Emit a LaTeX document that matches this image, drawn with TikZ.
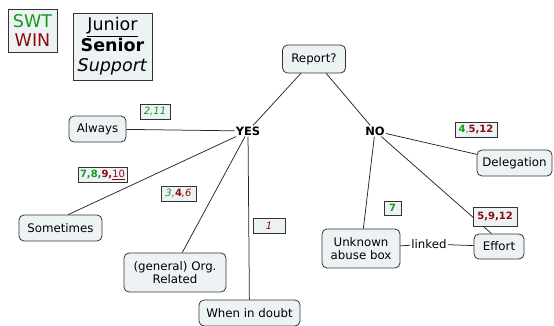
\documentclass[tikz,border=0pt]{standalone}
\usepackage{fontspec}
\setmainfont{DejaVu Sans}
\definecolor{swt}{HTML}{1C961C}
\definecolor{win}{HTML}{8C0A0A}
\definecolor{boxfill}{HTML}{EDF3F5}
\definecolor{edge}{HTML}{333333}
\begin{document}
\begin{tikzpicture}[x=1pt,y=-1pt,
  topic/.style={draw=edge,fill=boxfill,rounded corners=5pt,line width=0.8pt,
    font=\fontsize{11.8}{13.5}\selectfont,align=center,inner sep=2pt,minimum height=26pt},
  tag/.style={draw=edge,fill=boxfill,line width=0.6pt,font=\fontsize{10}{12}\selectfont,
    inner sep=1.5pt,minimum height=15pt},
  hub/.style={font=\bfseries\fontsize{11.5}{13}\selectfont,inner sep=1pt},
  conn/.style={draw=black!85,line width=0.75pt},
  legend/.style={draw=edge,fill=boxfill,line width=0.8pt,align=center,inner sep=1pt}]
\useasboundingbox (0,0) rectangle (554,326);

% legends
\node[legend,minimum width=49pt,minimum height=43pt,font=\fontsize{17.5}{19}\selectfont] (key1) at (32.5,30.5)
  {\textcolor{swt}{SWT}\\\textcolor{win}{WIN}};
\node[legend,minimum width=79pt,minimum height=67pt,font=\fontsize{17.5}{20.5}\selectfont] (key2) at (112.5,46.5)
  {\underline{Junior}\\\textbf{Senior}\\\textit{Support}};

% topics
\node[topic,minimum width=63pt,minimum height=28pt] (rep) at (314,59) {Report?};
\node[hub] (yes) at (248,131) {YES};
\node[hub] (no) at (375,131) {NO};
\node[topic,minimum width=57pt] (alw) at (97.5,129) {Always};
\node[topic,minimum width=83pt] (som) at (60.5,228) {Sometimes};
\node[topic,minimum width=102pt,minimum height=39pt] (org) at (175,272.5) {(general) Org.\\Related};
\node[topic,minimum width=101pt] (wid) at (249.5,313) {When in doubt};
\node[topic,minimum width=78pt,minimum height=39pt] (unk) at (361,248.5) {Unknown\\abuse box};
\node[topic,minimum width=50pt,minimum height=25pt] (eff) at (499,246.5) {Effort};
\node[topic,minimum width=75pt] (del) at (514.5,163) {Delegation};

% connectors
\draw[conn] (rep) -- (yes);
\draw[conn] (rep) -- (no);
\draw[conn] (yes) -- (alw);
\draw[conn] (yes) -- (som.60);
\draw[conn] (yes) -- (org.70);
\draw[conn] (yes) -- (wid);
\draw[conn] (no) -- (del);
\draw[conn] (no) -- (unk);
\draw[conn] (no) -- (eff.120);
\node[font=\fontsize{11.8}{13.5}\selectfont,inner sep=1pt,fill=white] (lnk) at (429,244) {linked};
\draw[conn] (unk) -- (lnk);
\draw[conn] (lnk) -- (eff);

% tags
\node[tag,minimum width=30pt] (t1) at (155,111.5) {\textcolor{swt}{\textit{2,11}}};
\node[tag,minimum width=49pt] (t2) at (102.5,175) {\textcolor{swt}{\textbf{7,8,}}\textcolor{win}{\textbf{9,}\underline{10}}};
\node[tag,minimum width=35pt] (t3) at (178.5,193.5) {\textcolor{swt}{\textit{3,}}\textcolor{win}{\textbf{4}\textit{,6}}};
\node[tag,minimum width=32pt] (t4) at (269,225.5) {\textcolor{win}{\textit{1}}};
\node[tag,minimum width=42pt] (t5) at (476,130) {\textcolor{swt}{\textbf{4},}\textcolor{win}{\textbf{5,12}}};
\node[tag,minimum width=17pt,minimum height=14pt] (t6) at (392.5,208) {\textcolor{swt}{\textbf{7}}};
\node[tag,minimum width=44pt,minimum height=19pt] (t7) at (495,216.5) {\textcolor{win}{\textbf{5,9,12}}};
\end{tikzpicture}
\end{document}
